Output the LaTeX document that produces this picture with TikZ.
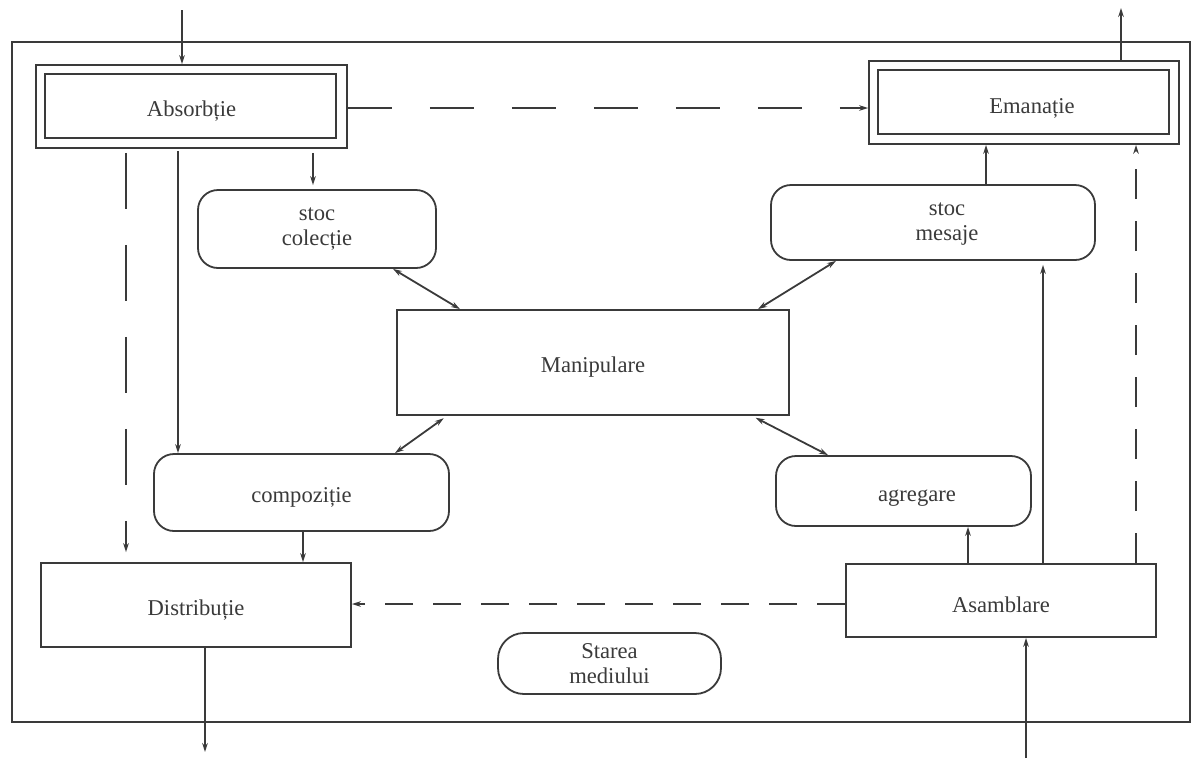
\documentclass[tikz,border=0pt]{standalone}
\usepackage{fontspec}
\setmainfont{Liberation Serif}
\usetikzlibrary{arrows.meta,calc}
\definecolor{ink}{HTML}{3A3A3A}
\begin{document}
\begin{tikzpicture}[x=0.5pt,y=-0.5pt,
  line width=0.9pt, draw=ink, color=ink,
  >={Stealth[length=4.5pt,width=2.8pt]},
  every node/.style={font=\fontsize{11.3}{12.5}\selectfont, text=ink},
  box/.style={draw, rectangle, inner sep=0pt, align=center, execute at begin node={\rule{0pt}{12.5pt}}},
  rbox/.style={box, rounded corners=10pt},
  txt/.style={inner sep=0pt, align=center, execute at begin node={\rule{0pt}{12.5pt}}},
  arr/.style={->},
  both/.style={<->},
  dashT/.style={dash pattern=on 22pt off 19pt},
  dashL/.style={dash pattern=on 28pt off 18pt},
  dashR/.style={dash pattern=on 15pt off 11pt},
  dashB/.style={dash pattern=on 14pt off 10pt}]
\useasboundingbox (0,0) rectangle (1194,761);
% outer frame
\draw (12,42) rectangle (1190,722);
% nodes
\node[box, minimum width=155.5pt, minimum height=41.5pt] (abs) at (191.5,106.5) {Absorbție};
\draw ($(abs.north west)+(10,10)$) rectangle ($(abs.south east)+(-12,-11)$);
\node[box, minimum width=155pt, minimum height=41.5pt] (ema) at (1024,102.5) {};
\draw ($(ema.north west)+(10,10)$) rectangle ($(ema.south east)+(-11,-11)$);
\node[txt] (ematxt) at (1032,103) {Emanație};
\node[rbox, minimum width=119pt, minimum height=39pt] (stocc) at (317,229) {stoc\\colecție};
\node[rbox, minimum width=162pt, minimum height=37.5pt] (stocm) at (933,222.5) {};
\node[txt] (stocmtxt) at (947,224) {stoc\\mesaje};
\node[box, minimum width=196pt, minimum height=52.5pt] (manip) at (593,362.5) {Manipulare};
\node[rbox, minimum width=147.5pt, minimum height=38.5pt] (comp) at (301.5,492.5) {compoziție};
\node[rbox, minimum width=127.5pt, minimum height=35pt] (agreg) at (903.5,491) {};
\node[txt] (agregtxt) at (917,491) {agregare};
\node[box, minimum width=155pt, minimum height=42pt] (distr) at (196,605) {Distribuție};
\node[box, minimum width=155pt, minimum height=36.5pt] (asam) at (1001,600.5) {Asamblare};
\node[rbox, rounded corners=13pt, minimum width=111.5pt, minimum height=30.5pt] (starea) at (609.5,663.5) {Starea\\mediului};
% external inputs / outputs
\coordinate (inA) at (182,10);
\draw[arr] (inA) -- (inA |- abs.north);
\coordinate (outE) at (1121,8);
\draw[arr] (outE |- ema.north) -- (outE);
\coordinate (outD) at (205,752);
\draw[arr] (outD |- distr.south) -- (outD);
\coordinate (inS) at (1026,758);
\draw[arr] (inS) -- (inS |- asam.south);
% dashed flows
\coordinate (h1) at (0,108);
\draw[arr,dashT] (h1 -| abs.east) -- (h1 -| ema.west);
\coordinate (h2) at (0,604);
\draw[arr,dashB] (h2 -| asam.west) -- (h2 -| distr.east);
\draw[arr,dashL,shorten <=2pt,shorten >=5pt] (126,0 |- abs.south) -- (126,0 |- distr.north);
\draw[arr,dashR] (1136,0 |- asam.north) -- (1136,0 |- ema.south);
% solid vertical flows
\draw[arr,shorten <=2pt,shorten >=2pt] (313,0 |- abs.south) -- (313,0 |- stocc.north);
\draw[arr,shorten <=1pt] (178,0 |- abs.south) -- (178,0 |- comp.north);
\draw[arr] (303,0 |- comp.south) -- (303,0 |- distr.north);
\draw[arr] (968,0 |- asam.north) -- (968,0 |- agreg.south);
\draw[arr,shorten >=2pt] (1043,0 |- asam.north) -- (1043,0 |- stocm.south);
\draw[arr] (986,0 |- stocm.north) -- (986,0 |- ema.south);
% manipulare links
\draw[both] (393,0 |- stocc.south) -- (460,0 |- manip.north);
\draw[both] (758,0 |- manip.north) -- (836,0 |- stocm.south);
\draw[both,shorten <=2pt] (447,0 |- manip.south) -- (395,0 |- comp.north);
\draw[both,shorten <=2pt] (752,0 |- manip.south) -- (828,0 |- agreg.north);
\end{tikzpicture}
\end{document}
